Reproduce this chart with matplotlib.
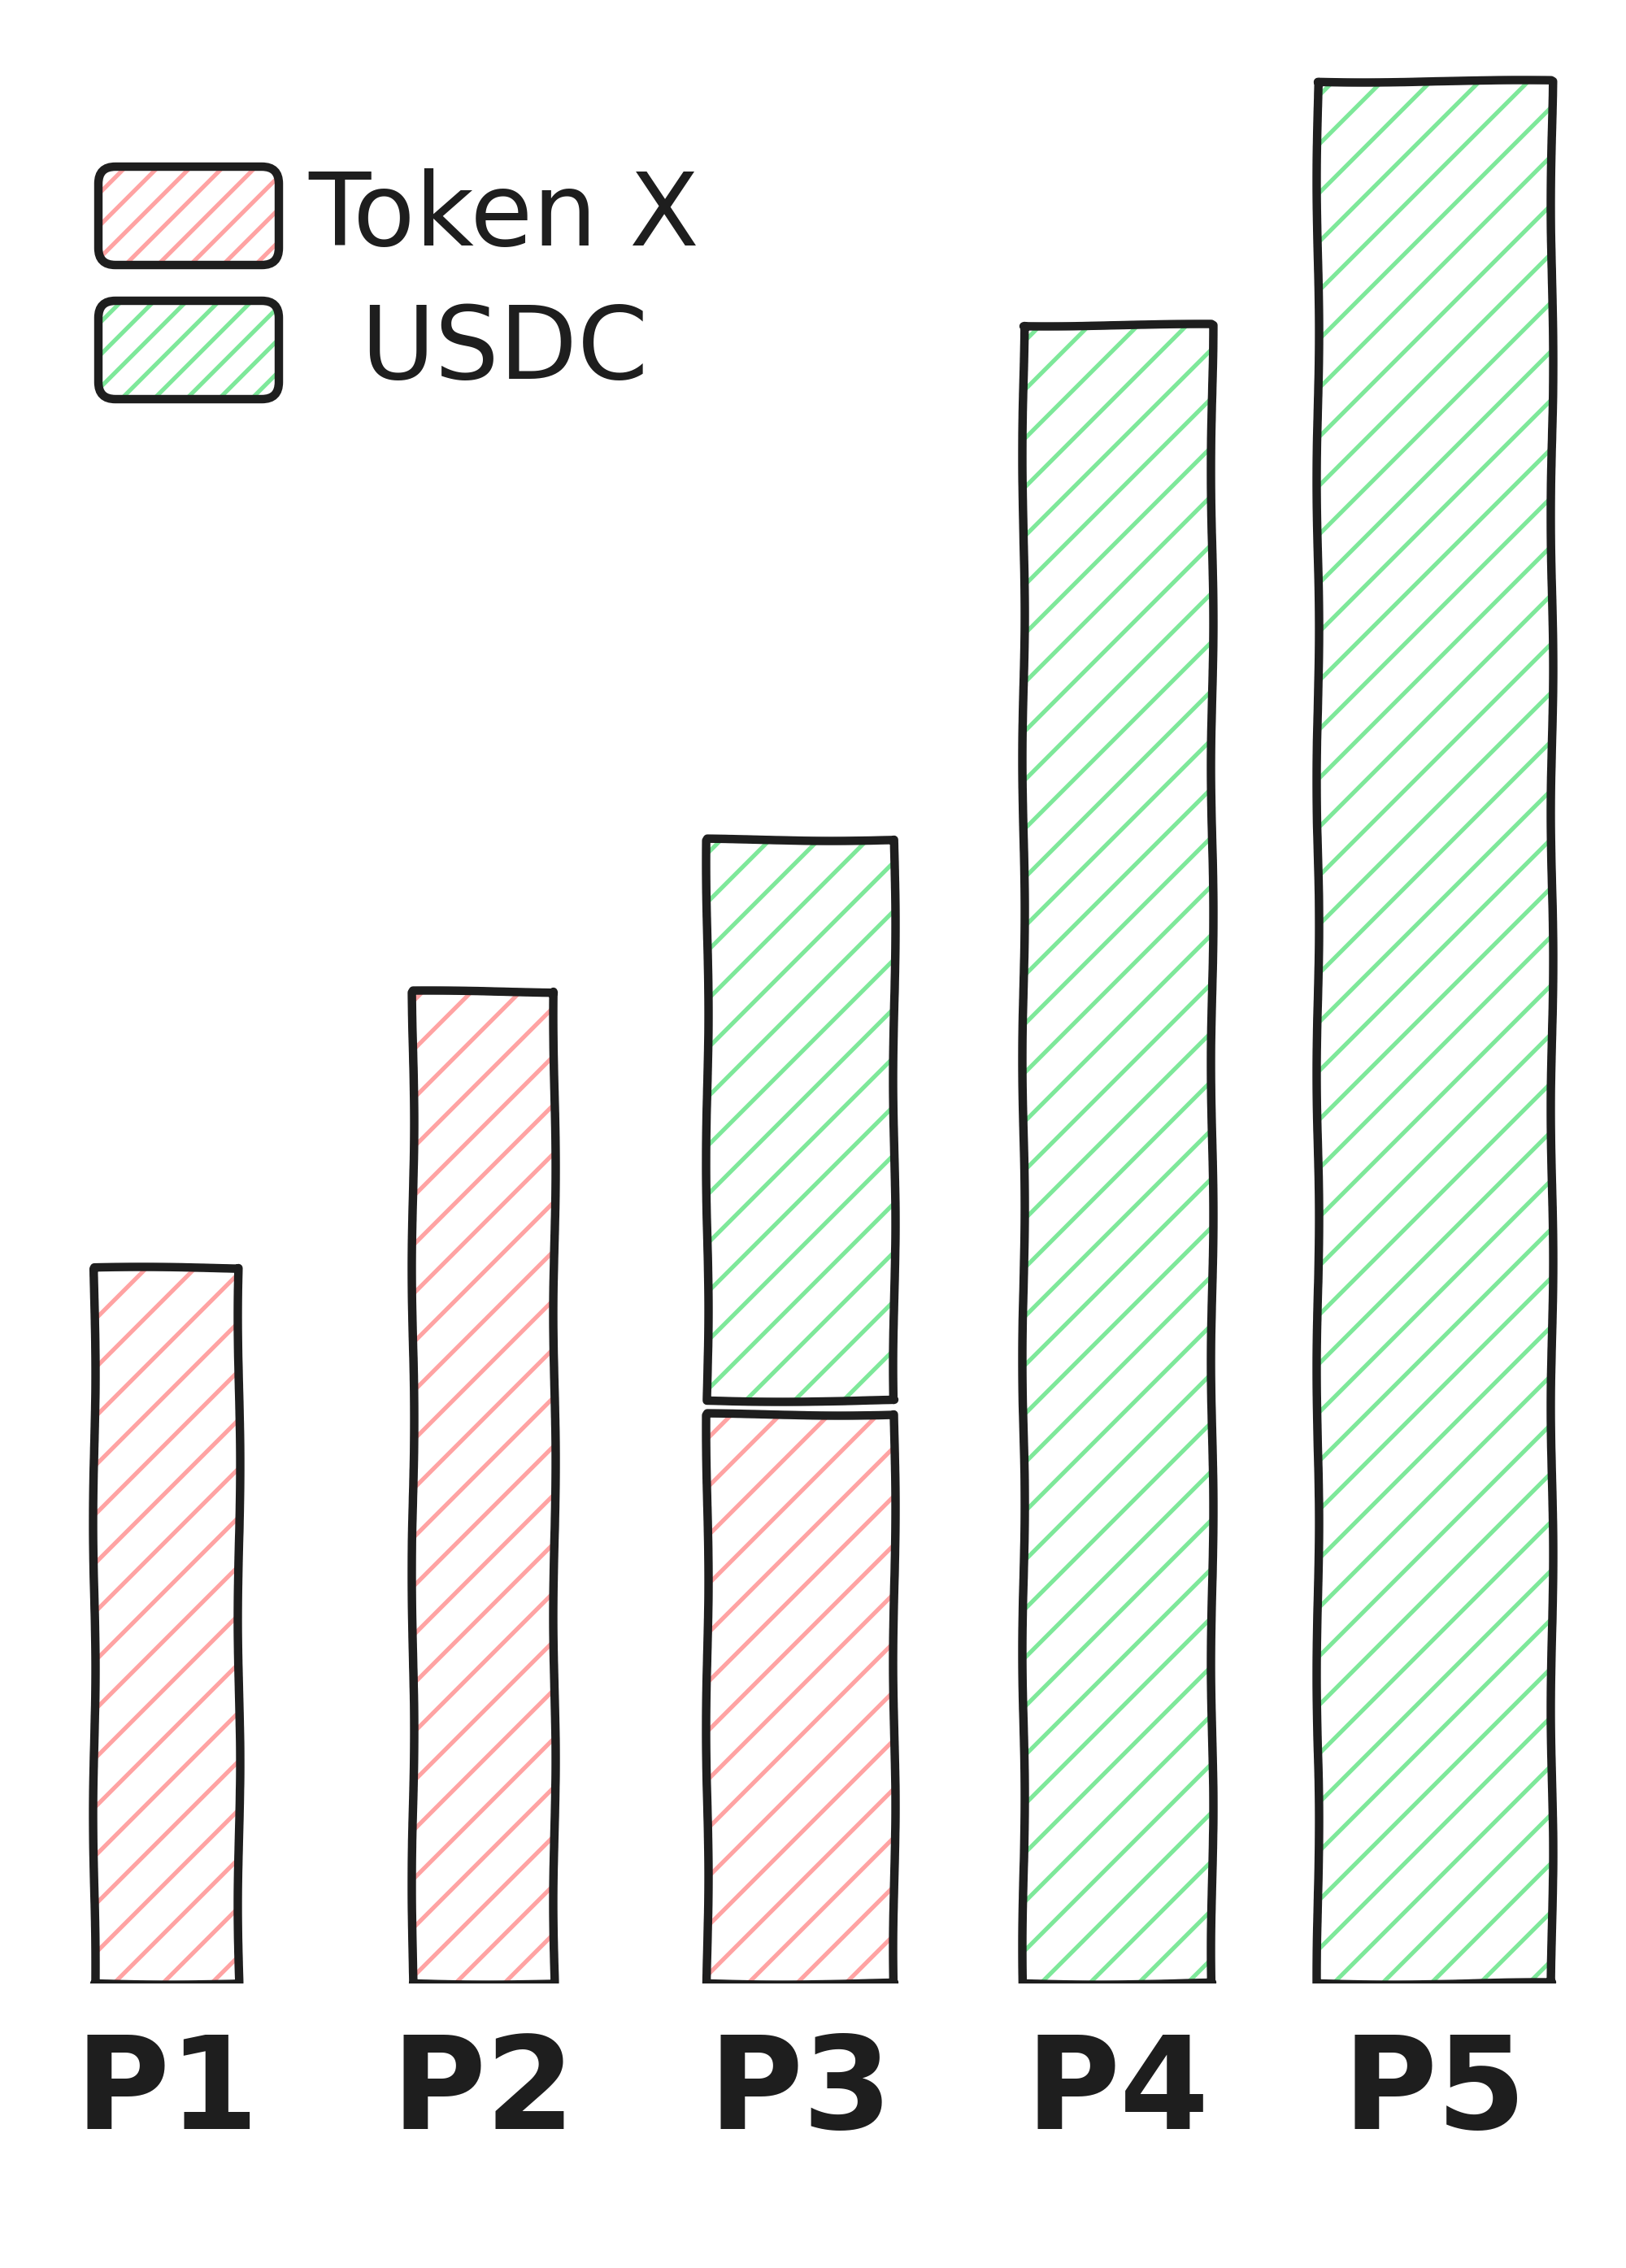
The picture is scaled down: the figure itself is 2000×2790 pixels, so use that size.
import matplotlib
matplotlib.use("Agg")
import matplotlib.pyplot as plt
from matplotlib.patches import FancyBboxPatch
import numpy as np

# data (arbitrary units, stacked in P3)
pools = ["P1", "P2", "P3", "P4", "P5"]
token_x = [8.8, 12.2, 7.0, 0, 0]
usdc = [0, 0, 6.9, 20.4, 23.4]
series = ["Token X", "USDC"]

RED = "#ffa3a3"
GREEN = "#7ee89a"
INK = "#1e1e1e"

# dpi picked so the '//' hatch spacing matches the drawing (~60 px)
DPI = 360
W, H = 2000, 2790
K = 300 / DPI  # sizes below were tuned at 300 dpi


def pt(v):
    return v * K


plt.rcParams["font.family"] = ["DejaVu Sans"]
plt.rcParams["hatch.linewidth"] = pt(1.25)

fig = plt.figure(figsize=(W / DPI, H / DPI), dpi=DPI, facecolor="white")
ax = fig.add_axes([0, 0.1254, 1, 0.8746])
ax.set_xlim(-0.526, 4.603)
ax.set_ylim(0, 24.4)

widths = np.array([0.456, 0.446, 0.59, 0.595, 0.74])
gap = 0.17
x = np.arange(len(pools))


def sketch_bars(vals, bottoms, color):
    vals = np.asarray(vals, dtype=float)
    keep = vals > 0
    xs, hs, bs, ws = x[keep], vals[keep], np.asarray(bottoms)[keep], widths[keep]
    ax.bar(xs, hs, ws, bottom=bs, facecolor="none", edgecolor=color,
           hatch="//", linewidth=0)
    outline = ax.bar(xs, hs, ws, bottom=bs, facecolor="none", edgecolor=INK,
                     linewidth=pt(2.5))
    for r in outline:
        r.set_joinstyle("round")
        r.set_sketch_params(1.5, 400, 2)


tx = np.array(token_x)
sketch_bars(token_x, np.zeros(len(pools)), RED)
sketch_bars(usdc, np.where(tx > 0, tx + gap, 0), GREEN)

ax.set_xticks(x, pools, fontsize=pt(38), fontweight="bold", color=INK)
ax.tick_params(axis="x", length=0, pad=pt(14))
ax.set_yticks([])
for s in ax.spines.values():
    s.set_visible(False)

# hand-drawn legend, top left
leg_tops = [205, 370]
for label, color, top in zip(series, [RED, GREEN], leg_tops):
    xy = (121 / DPI, (H - top - 121) / DPI)
    for ec, hatch, lw in [(color, "///", 0), (INK, None, pt(2.5))]:
        p = FancyBboxPatch(xy, 222 / DPI, 121 / DPI,
                           boxstyle="round,pad=0,rounding_size=%.3f" % (21 / DPI),
                           transform=fig.dpi_scale_trans, facecolor="none",
                           edgecolor=ec, hatch=hatch, linewidth=lw)
        fig.add_artist(p)
    fig.text(620 / W, 1 - (top + 62) / H, label, ha="center", va="center",
             fontsize=pt(30), color=INK)

fig.savefig("out.png", dpi=DPI)
